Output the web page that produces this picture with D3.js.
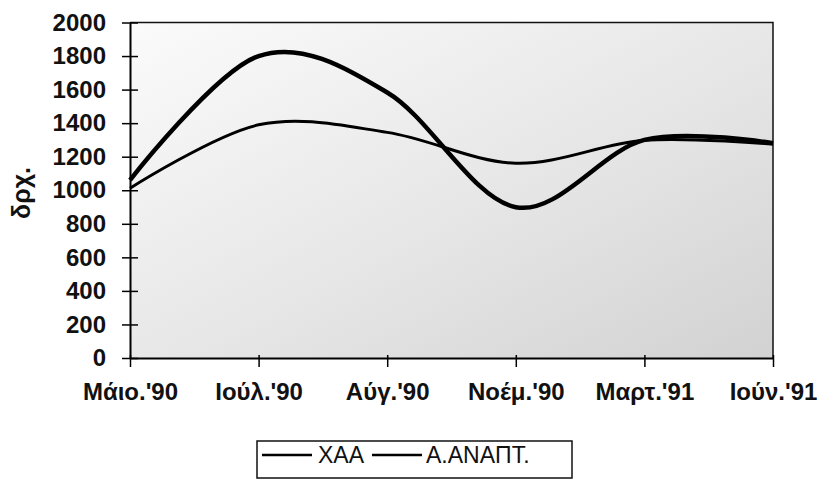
<!DOCTYPE html>
<html>
<head>
<meta charset="utf-8">
<script src="https://cdn.jsdelivr.net/npm/d3@7"></script>
<style>
  html, body { margin: 0; padding: 0; background: #fff; }
  svg { display: block; }
</style>
</head>
<body>
<div id="chart"></div>
<script>
// Two smoothed price lines, May '90 - Jun '91, drachmas

const months   = ["Μάιο.'90", "Ιούλ.'90", "Αύγ.'90", "Νοέμ.'90", "Μαρτ.'91", "Ιούν.'91"];
const xaa      = [1060, 1800, 1583, 899, 1300, 1280];
const anapt    = [1012, 1390, 1345, 1161, 1298, 1275];
const yTicks   = [0, 200, 400, 600, 800, 1000, 1200, 1400, 1600, 1800, 2000];
const seriesNames = ["ΧΑΑ", "Α.ΑΝΑΠΤ."];

const FONT = "'Liberation Sans', Arial, sans-serif";
const W = 818, H = 480;
const m = { top: 22.5, right: 45, bottom: 122, left: 130 };
const iw = W - m.left - m.right;
const ih = H - m.top - m.bottom;

const svg = d3.select("#chart").append("svg")
  .attr("width", W).attr("height", H);

// scanned-paper tone of the plot area
const defs = svg.append("defs");
const grad = defs.append("linearGradient")
  .attr("id", "bg").attr("x1", "0").attr("y1", "0").attr("x2", "1").attr("y2", "1");
grad.append("stop").attr("offset", "0%").attr("stop-color", "#fbfbfb");
grad.append("stop").attr("offset", "55%").attr("stop-color", "#e6e6e6");
grad.append("stop").attr("offset", "100%").attr("stop-color", "#d2d2d2");

const g = svg.append("g").attr("transform", `translate(${m.left},${m.top})`);

const x = d3.scalePoint().domain(months).range([0, iw]);
const y = d3.scaleLinear().domain([0, 2000]).range([ih, 0]);

g.append("rect")
  .attr("width", iw).attr("height", ih)
  .attr("fill", "url(#bg)");

// top and right frame
g.append("path")
  .attr("d", `M0,0H${iw}V${ih}`)
  .attr("fill", "none").attr("stroke", "#111").attr("stroke-width", 1.5);

// Lines
const rows = months.map((mo, i) => ({ month: mo, a: xaa[i], b: anapt[i] }));
const line = key => d3.line()
  .x(d => x(d.month))
  .y(d => y(d[key]))
  .curve(d3.curveCardinal.tension(0));

g.append("path").datum(rows)
  .attr("d", line("b"))
  .attr("fill", "none").attr("stroke", "#000")
  .attr("stroke-width", 3).attr("stroke-linejoin", "round");

g.append("path").datum(rows)
  .attr("d", line("a"))
  .attr("fill", "none").attr("stroke", "#000")
  .attr("stroke-width", 4.5).attr("stroke-linejoin", "round");

// Y axis
const yAxisG = g.append("g")
  .call(d3.axisLeft(y).tickValues(yTicks).tickFormat(d3.format("d"))
    .tickSizeInner(8).tickSizeOuter(0).tickPadding(16));
yAxisG.select(".domain").attr("stroke", "#000").attr("stroke-width", 2);
yAxisG.selectAll(".tick line").attr("x1", 8).attr("stroke", "#000").attr("stroke-width", 1.5);
yAxisG.selectAll(".tick text")
  .attr("fill", "#111")
  .attr("font-size", "24px")
  .attr("font-weight", "bold")
  .attr("font-family", FONT);

// X axis
const xAxisG = g.append("g")
  .attr("transform", `translate(0,${ih})`)
  .call(d3.axisBottom(x).tickSizeInner(9).tickSizeOuter(0).tickPadding(16));
xAxisG.select(".domain").attr("stroke", "#000").attr("stroke-width", 2);
xAxisG.selectAll(".tick line").attr("y1", -3).attr("stroke", "#000").attr("stroke-width", 1.5);
xAxisG.selectAll(".tick text")
  .attr("y", 25)
  .attr("fill", "#111")
  .attr("font-size", "24px")
  .attr("font-weight", "bold")
  .attr("font-family", FONT);

// Y axis title
svg.append("text")
  .attr("transform", `translate(30,193) rotate(-90)`)
  .attr("text-anchor", "middle")
  .attr("fill", "#111")
  .attr("font-size", "25px")
  .attr("font-weight", "bold")
  .attr("font-family", FONT)
  .text("δρχ.");

// Legend
const lg = svg.append("g").attr("transform", "translate(257,441)");
lg.append("rect")
  .attr("width", 315).attr("height", 37)
  .attr("fill", "#fff").attr("stroke", "#111").attr("stroke-width", 1.5);

const legendItems = [
  { name: seriesNames[0], x0: 5,   tx: 61 },
  { name: seriesNames[1], x0: 115, tx: 169 },
];
legendItems.forEach(it => {
  lg.append("line")
    .attr("x1", it.x0).attr("x2", it.x0 + 50)
    .attr("y1", 14).attr("y2", 14)
    .attr("stroke", "#000").attr("stroke-width", 2.5);
  lg.append("text")
    .attr("x", it.tx).attr("y", 14)
    .attr("dy", "0.35em")
    .attr("fill", "#111")
    .attr("font-size", "23px")
    .attr("font-family", FONT)
    .text(it.name);
});
</script>
</body>
</html>
